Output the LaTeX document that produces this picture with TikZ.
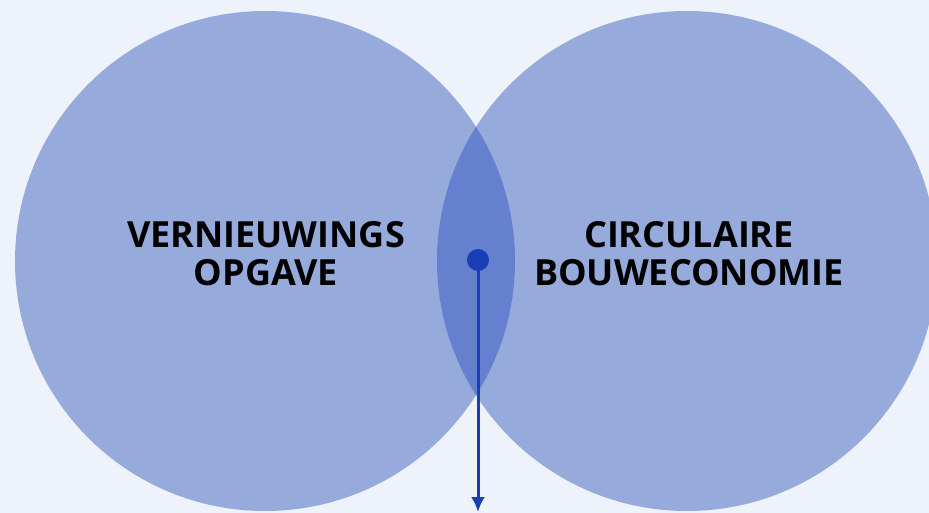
\documentclass[tikz,border=0pt]{standalone}
\usepackage{fontspec}
\setmainfont{Open Sans}
\usetikzlibrary{arrows.meta}
\definecolor{pagebg}{HTML}{EEF2FA}
\definecolor{ringfill}{HTML}{97AADC}
\definecolor{lensfill}{HTML}{6680D0}
\definecolor{pinblue}{HTML}{1A3FB5}

\begin{document}
\begin{tikzpicture}[x=1pt, y=-1pt,
	every node/.style={font=\fontsize{36}{38}\selectfont\bfseries, align=center, text=black}]
	\fill[pagebg] (0,0) rectangle (929,513);
	\clip (0,0) rectangle (929,513);
	\fill[ringfill] (265,261) circle (250);
	\fill[ringfill] (687,261) circle (250);
	\begin{scope}
		\clip (265,261) circle (250);
		\fill[lensfill] (687,261) circle (250);
	\end{scope}
	\node (renew) at (266,254) {VERNIEUWINGS\\OPGAVE};
	\node (circ) at (689,254) {CIRCULAIRE\\BOUWECONOMIE};
	\node[circle, fill=pinblue, inner sep=0pt, minimum size=22pt] (pin) at (478,260) {};
	\coordinate (tip) at (478,512);
	\draw[pinblue, line width=3pt, -{Latex[length=15pt, width=14pt]}] (pin.center) -- (tip);
\end{tikzpicture}
\end{document}
